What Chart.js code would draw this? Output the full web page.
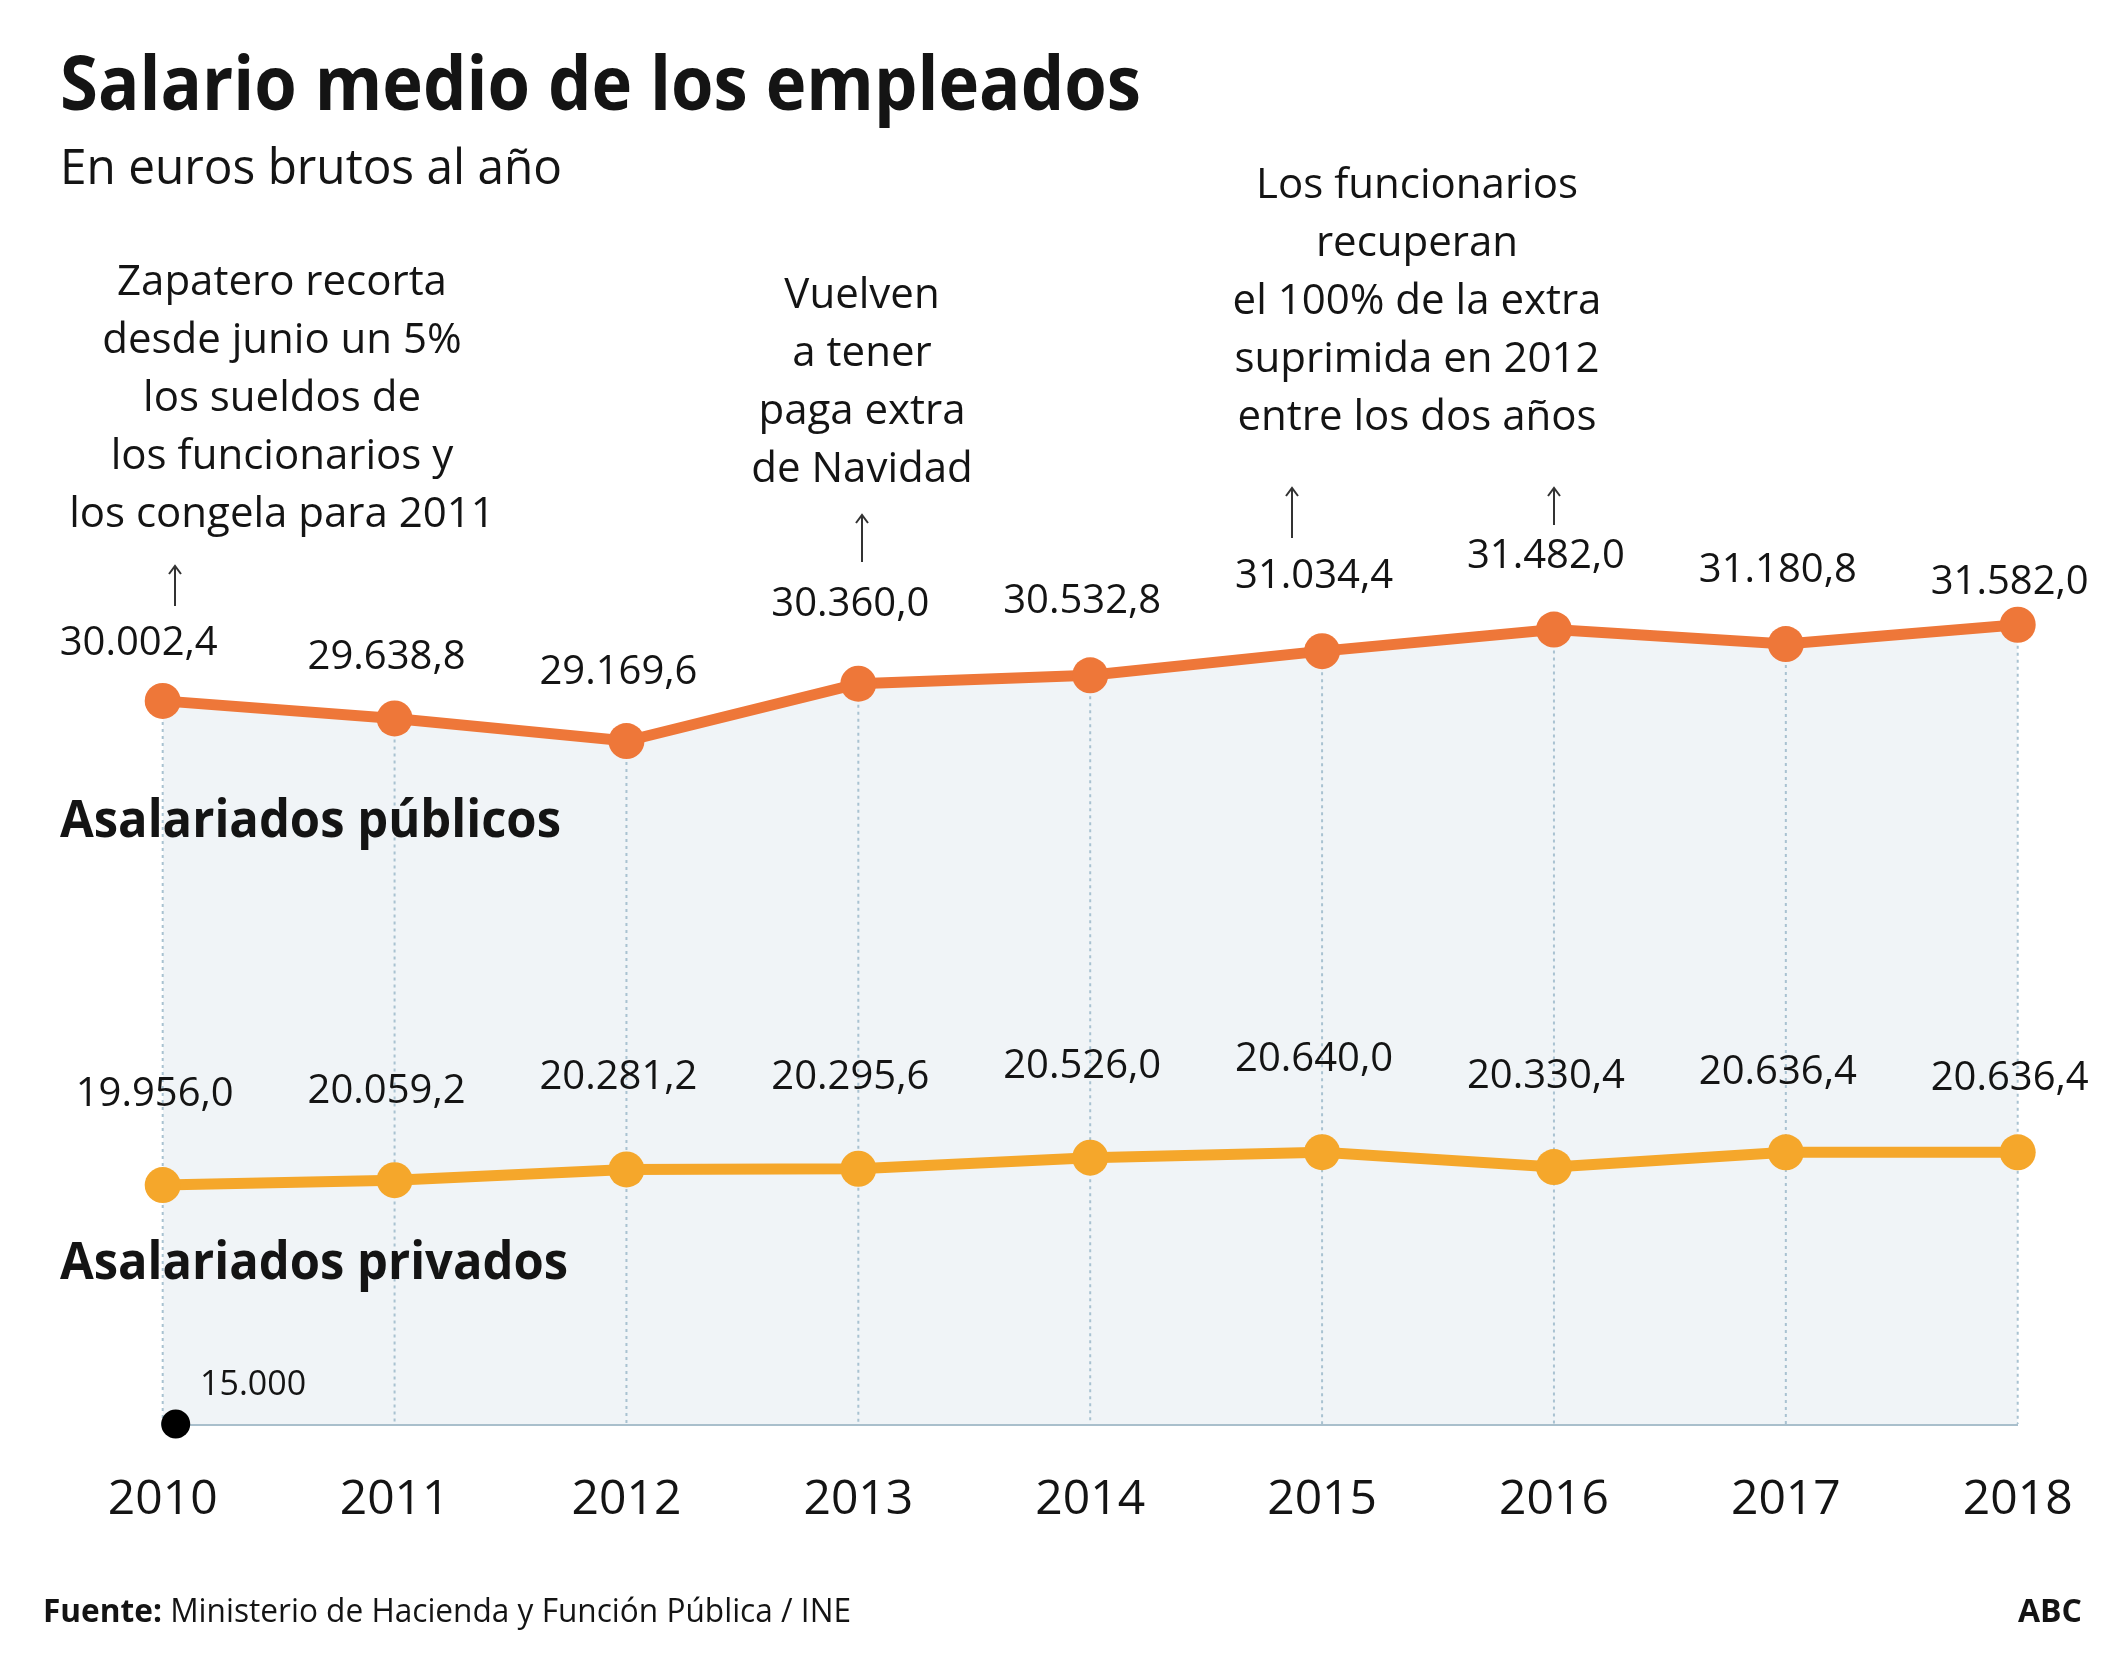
<!DOCTYPE html>
<html>
<head>
<meta charset="utf-8">
<script src="https://cdn.jsdelivr.net/npm/chart.js@4.4.1/dist/chart.umd.min.js"></script>
<style>
  html, body { margin: 0; padding: 0; background: #fff; }
  #wrap { width: 2125px; height: 1667px; }
</style>
</head>
<body>
<div id="wrap"><canvas id="chart" width="2125" height="1667"></canvas></div>
<script>
// data (euros brutos al año)
const years = ["2010", "2011", "2012", "2013", "2014", "2015", "2016", "2017", "2018"];
const publicos = [30002.4, 29638.8, 29169.6, 30360.0, 30532.8, 31034.4, 31482.0, 31180.8, 31582.0];
const privados = [19956.0, 20059.2, 20281.2, 20295.6, 20526.0, 20640.0, 20330.4, 20636.4, 20636.4];
const yMin = 15000;
const yMax = 40000;

// how far above each point its value label sits (px), hand placed in the original
const pubLift = [46, 49, 57, 68, 62, 63, 62, 62, 31];
const privLift = [79, 77, 80, 80, 80, 81, 79, 68, 62];

const FONT = '"Open Sans", "Noto Sans", sans-serif';
const INK = "#141414";

function fmt(v) {
  const [ent, dec] = v.toFixed(1).split(".");
  return ent.replace(/\B(?=(\d{3})+(?!\d))/g, ".") + "," + dec;
}

function text(ctx, s, x, y, font, align, maxW) {
  ctx.font = font;
  ctx.textAlign = align || "left";
  ctx.textBaseline = "alphabetic";
  ctx.fillStyle = INK;
  if (maxW) ctx.fillText(s, x, y, maxW);
  else ctx.fillText(s, x, y);
}

function arrow(ctx, x, y1, y2) {
  ctx.save();
  ctx.strokeStyle = "#333";
  ctx.lineWidth = 2;
  ctx.beginPath();
  ctx.moveTo(x, y2);
  ctx.lineTo(x, y1);
  ctx.moveTo(x - 6, y1 + 8);
  ctx.lineTo(x, y1);
  ctx.lineTo(x + 6, y1 + 8);
  ctx.stroke();
  ctx.restore();
}

// dotted drops from the public points down to the axis
const dropLines = {
  id: "dropLines",
  beforeDatasetsDraw(chart) {
    const ctx = chart.ctx;
    const meta = chart.getDatasetMeta(0);
    const bottom = chart.chartArea.bottom;
    ctx.save();
    ctx.strokeStyle = "#a9c2d1";
    ctx.lineWidth = 2;
    ctx.setLineDash([3, 4]);
    meta.data.forEach(pt => {
      ctx.beginPath();
      ctx.moveTo(pt.x, pt.y);
      ctx.lineTo(pt.x, bottom);
      ctx.stroke();
    });
    ctx.restore();
  }
};

const decorations = {
  id: "decorations",
  afterDraw(chart) {
    const ctx = chart.ctx;
    const area = chart.chartArea;

    // titles
    text(ctx, "Salario medio de los empleados", 60, 110, "bold 75px " + FONT, "left", 1081);
    text(ctx, "En euros brutos al año", 60, 184, "50px " + FONT, "left", 502);

    // value labels
    const pub = chart.getDatasetMeta(0).data;
    const priv = chart.getDatasetMeta(1).data;
    pub.forEach((pt, i) => {
      const dx = i === 0 ? -24 : -8;
      text(ctx, fmt(publicos[i]), pt.x + dx, pt.y - pubLift[i], "40px " + FONT, "center");
    });
    priv.forEach((pt, i) => {
      text(ctx, fmt(privados[i]), pt.x - 8, pt.y - privLift[i], "40px " + FONT, "center");
    });

    // series names
    text(ctx, "Asalariados públicos", 60, 837, "bold 52px " + FONT, "left", 501);
    text(ctx, "Asalariados privados", 60, 1279, "bold 52px " + FONT, "left", 508);

    // baseline marker
    ctx.save();
    ctx.fillStyle = "#000";
    ctx.beginPath();
    ctx.arc(area.left + 13, area.bottom, 14.5, 0, Math.PI * 2);
    ctx.fill();
    ctx.restore();
    text(ctx, "15.000", 200, 1395, "34px " + FONT, "left");

    // annotations
    const ann1 = ["Zapatero recorta", "desde junio un 5%", "los sueldos de", "los funcionarios y", "los congela para 2011"];
    ann1.forEach((s, i) => text(ctx, s, 282, 295 + i * 58, "42px " + FONT, "center"));
    arrow(ctx, 175, 566, 606);

    const ann2 = ["Vuelven", "a tener", "paga extra", "de Navidad"];
    ann2.forEach((s, i) => text(ctx, s, 862, 308 + i * 58, "42px " + FONT, "center"));
    arrow(ctx, 862, 515, 562);

    const ann3 = ["Los funcionarios", "recuperan", "el 100% de la extra", "suprimida en 2012", "entre los dos años"];
    ann3.forEach((s, i) => text(ctx, s, 1417, 198 + i * 58, "42px " + FONT, "center"));
    arrow(ctx, 1292, 488, 538);
    arrow(ctx, 1554, 488, 525);

    // footer
    ctx.save();
    const fb = "bold 32px " + FONT, fr = "32px " + FONT;
    const a = "Fuente: ", b = "Ministerio de Hacienda y Función Pública / INE";
    ctx.font = fb; const wa = ctx.measureText(a).width;
    ctx.font = fr; const wb = ctx.measureText(b).width;
    const f = Math.min(1, 808 / (wa + wb));
    ctx.translate(43, 1622);
    ctx.scale(f, 1);
    text(ctx, a, 0, 0, fb, "left");
    text(ctx, b, wa, 0, fr, "left");
    ctx.restore();
    text(ctx, "ABC", 2082, 1622, "bold 32px " + FONT, "right");
  }
};

const ctx = document.getElementById("chart").getContext("2d");
new Chart(ctx, {
  type: "line",
  data: {
    labels: years,
    datasets: [{
      label: "Asalariados públicos",
      data: publicos,
      borderColor: "#ee7739",
      backgroundColor: "#f0f4f7",
      pointBackgroundColor: "#ee7739",
      fill: "start",
      borderWidth: 11,
      pointRadius: 18,
      pointHoverRadius: 18,
      pointBorderWidth: 0,
      tension: 0,
      clip: false
    }, {
      label: "Asalariados privados",
      data: privados,
      borderColor: "#f5a72b",
      pointBackgroundColor: "#f5a72b",
      fill: false,
      borderWidth: 11,
      pointRadius: 18,
      pointHoverRadius: 18,
      pointBorderWidth: 0,
      tension: 0,
      clip: false
    }]
  },
  options: {
    responsive: false,
    animation: false,
    events: [],
    layout: { padding: { left: 162.7, right: 107.3, top: 219, bottom: 0 } },
    plugins: {
      legend: { display: false },
      tooltip: { enabled: false },
      filler: { drawTime: "beforeDatasetsDraw" }
    },
    scales: {
      y: { display: false, min: yMin, max: yMax },
      x: {
        offset: false,
        grid: { display: false, drawTicks: false },
        border: { display: true, color: "#a9bfcc", width: 4 },
        ticks: {
          color: INK,
          font: { family: FONT, size: 48 },
          padding: 48,
          maxRotation: 0,
          autoSkip: false
        },
        afterFit(scale) { scale.height = 243; } // axis line sits at y=1424
      }
    }
  },
  plugins: [dropLines, decorations]
});
</script>
</body>
</html>
